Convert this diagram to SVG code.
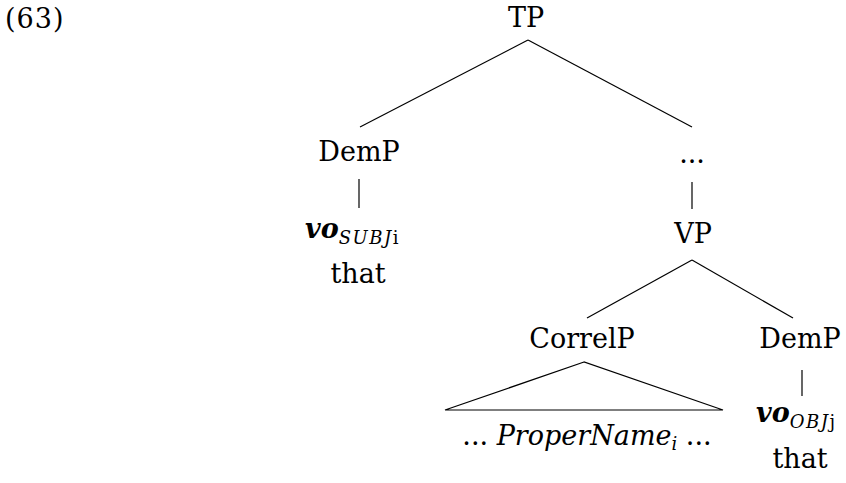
<svg xmlns="http://www.w3.org/2000/svg" width="846" height="483" viewBox="0 0 846 483">
<style>
text{font-family:"DejaVu Serif","Liberation Serif",serif;font-size:27px;fill:#000}
.c{text-anchor:middle}
.sub{font-size:18px}
.sp{letter-spacing:1.5px}
line,polygon{stroke:#000;stroke-width:1.2;fill:none}
</style>
<rect width="846" height="483" fill="#fff"/>
<text x="5" y="28" style="letter-spacing:1px">(63)</text>
<g id="connectors">
<line x1="528" y1="40" x2="360" y2="127"/>
<line x1="528" y1="40" x2="692" y2="127"/>
<line x1="359" y1="179" x2="359" y2="208"/>
<line x1="692" y1="182" x2="692" y2="209"/>
<line x1="692" y1="260" x2="587" y2="318"/>
<line x1="692" y1="260" x2="793" y2="318"/>
<line x1="802" y1="370" x2="802" y2="396"/>
</g>
<g id="TP"><text class="c" x="526" y="27">TP</text></g>
<g id="DemP1"><text class="c" x="359" y="161">DemP</text></g>
<g id="dots"><text class="c" x="692" y="163">...</text></g>
<g id="vo1"><text x="305" y="238"><tspan font-weight="bold" font-style="italic">vo</tspan><tspan class="sub sp" dy="6" font-style="italic">SUBJ</tspan><tspan class="sub">i</tspan></text>
<text class="c" x="358" y="283">that</text></g>
<g id="VP"><text class="c" x="693" y="243">VP</text></g>
<g id="CorrelP"><text class="c" x="582" y="348">CorrelP</text>
<polygon points="584,362 445,410 723,410"/>
<text class="c" x="587" y="445">... <tspan font-style="italic">ProperName</tspan><tspan class="sub" font-style="italic" dy="5">i</tspan><tspan dy="-5"> ...</tspan></text></g>
<g id="DemP2"><text class="c" x="800" y="348">DemP</text></g>
<g id="vo2"><text x="756" y="422"><tspan font-weight="bold" font-style="italic">vo</tspan><tspan class="sub sp" dy="6" font-style="italic">OBJ</tspan><tspan class="sub">j</tspan></text>
<text class="c" x="800" y="468">that</text></g>
</svg>
